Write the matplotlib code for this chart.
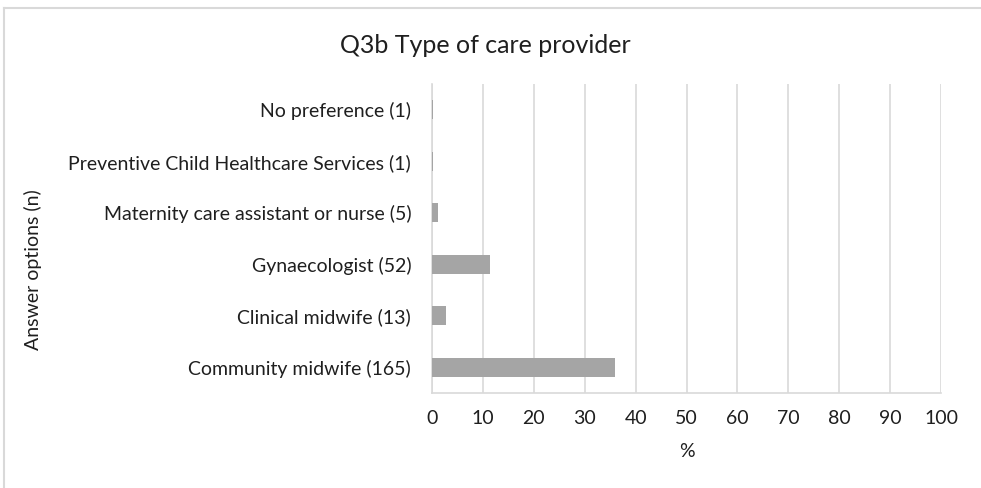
import matplotlib.pyplot as plt
from matplotlib.lines import Line2D

plt.rcParams['font.family'] = ['Lato', 'DejaVu Sans']

categories = [
    "Community midwife (165)",
    "Clinical midwife (13)",
    "Gynaecologist (52)",
    "Maternity care assistant or nurse (5)",
    "Preventive Child Healthcare Services (1)",
    "No preference (1)",
]
percent = [36.0, 2.8, 11.4, 1.1, 0.2, 0.2]
xticks = list(range(0, 101, 10))

grid_col = "#d9d9d9"
text_col = "#1f1f1f"

fig = plt.figure(figsize=(9.81, 4.88), dpi=100)
ax = fig.add_axes([0.4404, 0.1947, 0.5188, 0.6332])

ax.barh(range(len(categories)), percent, height=0.36, color="#a5a5a5", zorder=3)

ax.set_xlim(0, 100)
ax.set_ylim(-0.5, len(categories) - 0.5)
ax.set_xticks(xticks)
ax.set_yticks(range(len(categories)))
ax.set_yticklabels(categories)
ax.tick_params(length=0, labelsize=14, colors=text_col)
ax.tick_params(axis="x", pad=12)
ax.tick_params(axis="y", pad=15)
ax.grid(axis="x", color=grid_col, linewidth=1.2, zorder=0)

for side in ("top", "right"):
    ax.spines[side].set_visible(False)
for side in ("left", "bottom"):
    ax.spines[side].set_color(grid_col)
    ax.spines[side].set_linewidth(1.2)

ax.set_xlabel("%", fontsize=14, color=text_col, labelpad=12)
fig.text(0.034, 0.447, "Answer options (n)", rotation=90, ha="center", va="center",
         fontsize=14, color=text_col)
fig.text(0.495, 0.907, "Q3b Type of care provider", ha="center", va="center",
         fontsize=18, color=text_col)

# chart area border (top and left edges only)
fig.add_artist(Line2D([0.004, 1.0], [0.984, 0.984], color=grid_col, linewidth=1.5))
fig.add_artist(Line2D([0.004, 0.004], [0.0, 0.984], color=grid_col, linewidth=1.5))

fig.savefig("out.png", dpi=100)
